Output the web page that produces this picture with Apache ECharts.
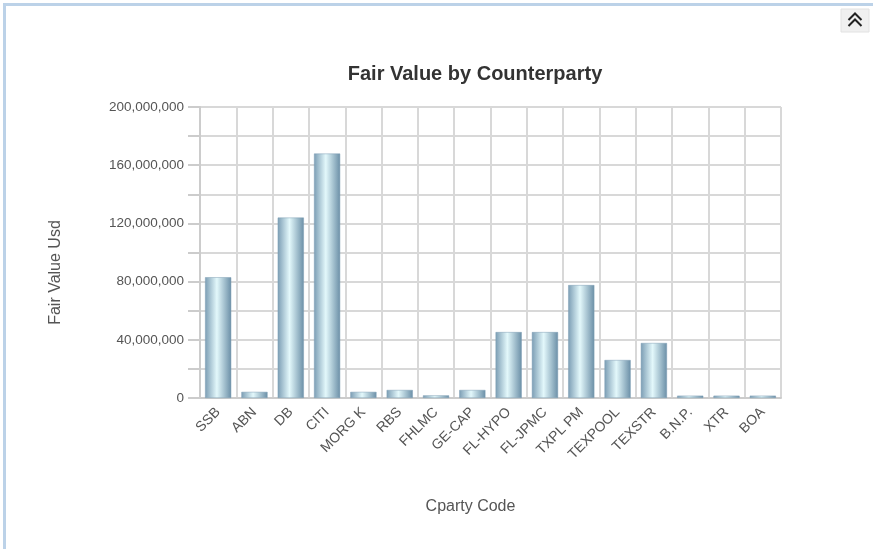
<!DOCTYPE html>
<html>
<head>
<meta charset="utf-8">
<script src="https://cdn.jsdelivr.net/npm/echarts@6/dist/echarts.min.js"></script>
<style>
  html, body { margin: 0; padding: 0; background: #fff; }
  #main { width: 873px; height: 549px; }
</style>
</head>
<body>
<div id="main"></div>
<script>
var categories = ['SSB', 'ABN', 'DB', 'CITI', 'MORG K', 'RBS', 'FHLMC', 'GE-CAP',
    'FL-HYPO', 'FL-JPMC', 'TXPL PM', 'TEXPOOL', 'TEXSTR', 'B.N.P.', 'XTR', 'BOA'];
var fairValues = [83000000, 4200000, 124000000, 168000000, 4200000, 5500000, 1800000, 5500000,
    45300000, 45300000, 77600000, 26100000, 37800000, 1600000, 1600000, 1600000];
var yTickLabels = [0, 40000000, 80000000, 120000000, 160000000, 200000000];

var myChart = echarts.init(document.getElementById('main'));

var barColor = new echarts.graphic.LinearGradient(0, 0, 1, 0, [
    {offset: 0, color: '#7b9db4'},
    {offset: 0.45, color: '#e3f8fb'},
    {offset: 1, color: '#6b8fa7'}
]);

var option = {
    backgroundColor: '#fff',
    animation: false,
    textStyle: {
        fontFamily: 'Liberation Sans, Arial, sans-serif'
    },
    title: {
        text: 'Fair Value by Counterparty',
        left: 470,
        top: 59,
        textAlign: 'center',
        textStyle: {
            fontSize: 20,
            fontWeight: 'bold',
            color: '#333'
        }
    },
    grid: {
        left: 200,
        right: 92,
        top: 107,
        bottom: 151
    },
    xAxis: {
        type: 'category',
        data: categories,
        name: 'Cparty Code',
        nameLocation: 'middle',
        nameGap: 101,
        nameTextStyle: {
            fontSize: 16,
            color: '#555',
            padding: [0, 40, 0, 0]
        },
        axisLine: {lineStyle: {color: '#ccc', width: 2}},
        axisTick: {
            alignWithLabel: true,
            length: 9,
            lineStyle: {color: '#ccc', width: 2}
        },
        axisLabel: {
            rotate: 45,
            interval: 0,
            fontSize: 14,
            color: '#555',
            margin: 12
        },
        splitLine: {
            show: true,
            lineStyle: {color: '#d8d8d8', width: 2}
        }
    },
    yAxis: {
        type: 'value',
        min: 0,
        max: 200000000,
        interval: 20000000,
        name: 'Fair Value Usd',
        nameLocation: 'middle',
        nameRotate: 90,
        nameGap: 136,
        nameTextStyle: {
            fontSize: 16,
            color: '#555',
            padding: [0, 40, 0, 0]
        },
        axisLine: {show: true, lineStyle: {color: '#ccc', width: 2}},
        axisTick: {
            show: true,
            length: 12,
            lineStyle: {color: '#ccc', width: 2}
        },
        axisLabel: {
            fontSize: 13.5,
            color: '#555',
            margin: 16,
            formatter: function (v) {
                if (yTickLabels.indexOf(v) < 0) return '';
                return v.toLocaleString('en-US');
            }
        },
        splitLine: {
            show: true,
            lineStyle: {color: '#d8d8d8', width: 2}
        }
    },
    series: [{
        name: 'Fair Value Usd',
        type: 'bar',
        data: fairValues,
        barCategoryGap: '28%',
        itemStyle: {
            color: barColor,
            borderColor: '#7f9fb4',
            borderWidth: 0.5
        }
    }],
    graphic: [
        {
            type: 'rect',
            shape: {x: 4.5, y: 4.5, width: 900, height: 600},
            style: {fill: 'none', stroke: '#bcd2e8', lineWidth: 3}
        },
        {
            type: 'rect',
            shape: {x: 841, y: 9, width: 28, height: 23},
            style: {fill: '#f0f0f0', stroke: '#e2e2e2', lineWidth: 1}
        },
        {
            type: 'polyline',
            shape: {points: [[848.5, 20], [855, 13.5], [861.5, 20]]},
            style: {fill: 'none', stroke: '#222', lineWidth: 2}
        },
        {
            type: 'polyline',
            shape: {points: [[848.5, 26], [855, 19.5], [861.5, 26]]},
            style: {fill: 'none', stroke: '#222', lineWidth: 2}
        }
    ]
};

myChart.setOption(option);
window.onresize = function () {
    myChart.resize();
};
</script>
</body>
</html>
